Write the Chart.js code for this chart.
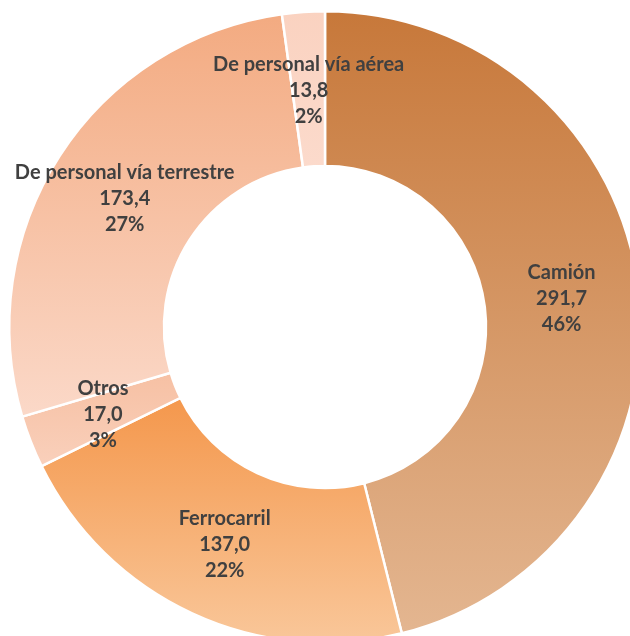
<!DOCTYPE html>
<html>
<head>
<meta charset="utf-8">
<script src="https://cdn.jsdelivr.net/npm/chart.js@4"></script>
<style>
  html, body { margin: 0; padding: 0; background: #fff; overflow: hidden; }
  #wrap { position: absolute; left: 0; top: 0; width: 650px; height: 660px; }
</style>
</head>
<body>
<div id="wrap"><canvas id="myChart"></canvas></div>
<script>
// data
var categories = ['Camión', 'Ferrocarril', 'Otros', 'De personal vía terrestre', 'De personal vía aérea'];
var values = [291.7, 137.0, 17.0, 173.4, 13.8];

// vertical gradient stops for each slice (position 0 = top of chart, 1 = bottom)
var gradStops = [
  [[0, '#C7783A'], [1, '#E4B792']],
  [[0.6, '#F4964A'], [1, '#F9C79A']],
  [[0.55, '#F6BEA0'], [0.75, '#FAD3C0']],
  [[0, '#F3AA80'], [0.65, '#FBD9C9']],
  [[0, '#FAD2C0'], [0.3, '#FCDCCE']]
];

var total = values.reduce(function (a, b) { return a + b; }, 0);

function sliceColor(context) {
  var chart = context.chart;
  var area = chart.chartArea;
  var stops = gradStops[context.dataIndex];
  if (!area) return stops[0][1];
  var g = chart.ctx.createLinearGradient(0, area.top, 0, area.bottom);
  stops.forEach(function (s) { g.addColorStop(s[0], s[1]); });
  return g;
}

// draws the three-line labels at the middle of each slice
var sliceLabels = {
  id: 'sliceLabels',
  afterDatasetsDraw: function (chart) {
    var ctx = chart.ctx;
    var meta = chart.getDatasetMeta(0);
    ctx.save();
    ctx.fillStyle = '#404040';
    ctx.font = 'bold 20px Lato';
    ctx.textAlign = 'center';
    ctx.textBaseline = 'middle';
    meta.data.forEach(function (arc, i) {
      var p = arc.getCenterPoint();
      var v = values[i];
      var lines = [
        categories[i],
        v.toFixed(1).replace('.', ','),
        Math.round(v / total * 100) + '%'
      ];
      lines.forEach(function (t, j) {
        ctx.fillText(t, p.x, p.y + 1 + (j - 1) * 26);
      });
    });
    ctx.restore();
  }
};

var ctx = document.getElementById('myChart').getContext('2d');

var myChart = new Chart(ctx, {
  type: 'doughnut',
  data: {
    labels: categories,
    datasets: [{
      data: values,
      backgroundColor: sliceColor,
      borderColor: '#ffffff',
      borderWidth: 2.5,
      hoverOffset: 0
    }]
  },
  options: {
    responsive: true,
    maintainAspectRatio: false,
    animation: false,
    cutout: '51%',
    layout: { padding: { left: 8, right: 8, top: 10, bottom: 16 } },
    plugins: {
      legend: { display: false },
      tooltip: { enabled: false }
    }
  },
  plugins: [sliceLabels]
});
</script>
</body>
</html>
